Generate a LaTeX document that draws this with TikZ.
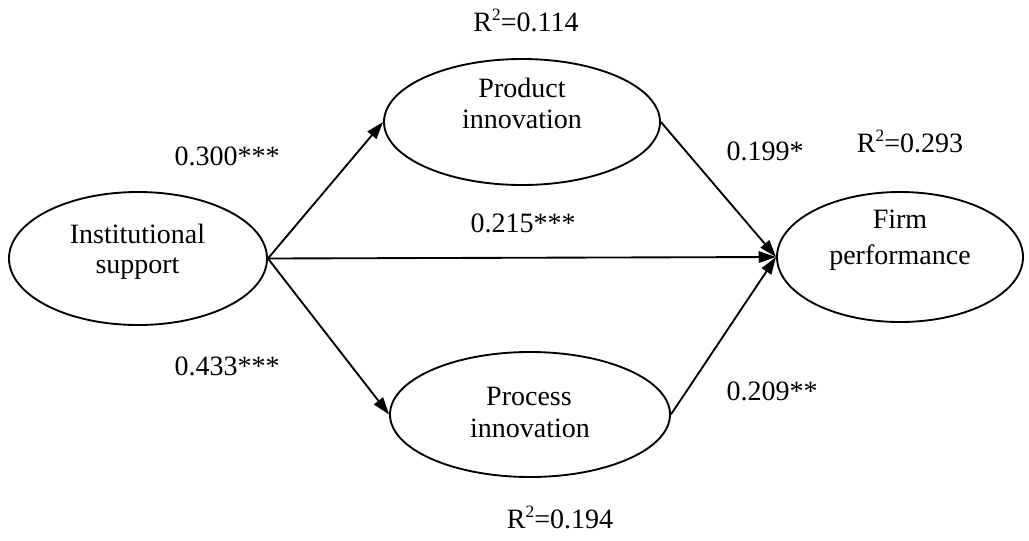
\documentclass[tikz,border=0pt]{standalone}
\usepackage{fontspec}
\setmainfont{Liberation Serif}
\usetikzlibrary{shapes.geometric,arrows.meta}
\newcommand{\supTwo}{\raisebox{8pt}{\fontsize{13pt}{13pt}\selectfont 2}}
\begin{document}
\begin{tikzpicture}[x=0.75pt,y=-0.75pt,
  ell/.style={draw, ellipse, line width=1.4pt, inner sep=0pt},
  txt/.style={anchor=base, inner sep=0pt, font=\fontsize{21pt}{24pt}\selectfont},
  path/.style={line width=1.4pt, -{Triangle[length=13pt,width=8.5pt]}}]
\useasboundingbox (0,0) rectangle (1029,540);
% ellipses
\node[ell, minimum width=193.5pt, minimum height=99.75pt] (inst) at (138,258.5) {};
\node[ell, minimum width=207pt, minimum height=94.5pt] (prod) at (522,122) {};
\node[ell, minimum width=210pt, minimum height=93.75pt] (proc) at (530,414.5) {};
\node[ell, minimum width=184.5pt, minimum height=97.5pt] (firm) at (900,257) {};
% ellipse texts
\node[txt] (inst1) at (137.5,243) {Institutional};
\node[txt] (inst2) at (137.5,273) {support};
\node[txt] (prod1) at (522,97) {Product};
\node[txt] (prod2) at (522,128) {innovation};
\node[txt] (proc1) at (529,405) {Process};
\node[txt] (proc2) at (530,437) {innovation};
\node[txt] (firm1) at (900,228) {Firm};
\node[txt] (firm2) at (900,264) {performance};
% connectors
\draw[path] (inst.east) -- (prod.west);
\draw[path] (inst.east) -- (proc.west);
\draw[path] (inst.east) -- (firm.west);
\draw[path] (prod.east) -- (firm.west);
\draw[path] (proc.east) -- (firm.west);
% coefficients
\node[txt] (c1) at (227,165) {0.300***};
\node[txt] (c2) at (523,232) {0.215***};
\node[txt] (c3) at (227,375) {0.433***};
\node[txt] (c4) at (765,160) {0.199*};
\node[txt] (c5) at (772,400) {0.209**};
% R squared
\node[txt] (r1) at (526,31) {R\supTwo=0.114};
\node[txt] (r2) at (910,152) {R\supTwo=0.293};
\node[txt] (r3) at (560,528) {R\supTwo=0.194};
\end{tikzpicture}
\end{document}
